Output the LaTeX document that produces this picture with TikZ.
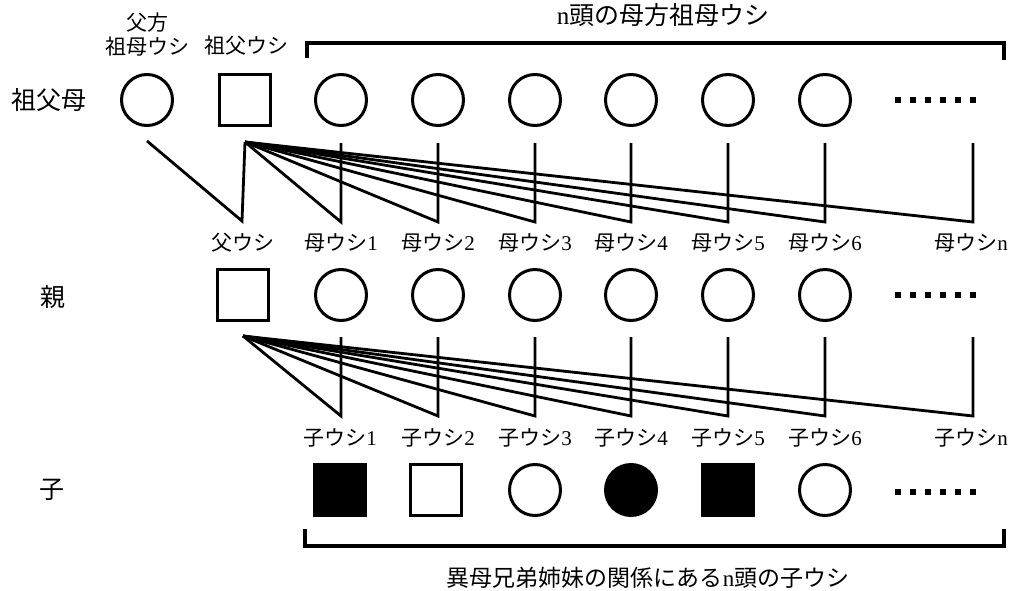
\documentclass[tikz,border=0pt]{standalone}
\usepackage{fontspec}
\setmainfont{Liberation Serif}
\newfontfamily\cjk{Noto Sans CJK JP}
\begin{document}
\begin{tikzpicture}[x=1pt,y=-1pt,
  fem/.style={circle,draw,minimum size=51pt,inner sep=0pt,line width=3pt},
  mal/.style={rectangle,draw,minimum size=51pt,inner sep=0pt,line width=3pt},
  femfill/.style={fem,fill=black},
  malfill/.style={mal,fill=black},
  lbl/.style={inner sep=0pt,font=\fontsize{21}{24}\selectfont\cjk},
  rowlbl/.style={inner sep=0pt,font=\fontsize{25}{27}\selectfont\cjk},
  toplbl/.style={inner sep=0pt,font=\fontsize{25}{27}\selectfont\cjk},
  botlbl/.style={inner sep=0pt,font=\fontsize{23}{25}\selectfont\cjk},
  link/.style={line width=2.8pt,line join=miter},
  brk/.style={line width=3.4pt,line join=miter},
  dot/.style={fill=black,minimum size=5.5pt,inner sep=0pt,rectangle}]
\useasboundingbox (0,0) rectangle (1022,591);

% ---- row labels
\node[rowlbl] (r1) at (49,100) {祖父母};
\node[rowlbl] (r2) at (53,297) {親};
\node[rowlbl] (r3) at (52,490) {子};

% ---- grandparents
\node[fem] (gmp) at (147,100) {};
\node[mal] (gf) at (245,100) {};
\foreach \i/\x in {1/341,2/438,3/535,4/631,5/728,6/825}
  \node[fem] (mg\i) at (\x,100) {};
\foreach \k in {0,...,5}
  \node[dot] (gd\k) at (898+\k*15,100) {};

\node[lbl,align=center] (lgmp) at (147,35) {父方\\祖母ウシ};
\node[lbl] (lgf) at (246,46) {祖父ウシ};
\node[toplbl] (ltop) at (663,15) {{\rmfamily n}頭の母方祖母ウシ};
\coordinate (tb1) at (307,58);
\coordinate (tb2) at (307,43);
\coordinate (tb3) at (1004,43);
\coordinate (tb4) at (1004,60);
\draw[brk] (tb1) -- (tb2) -- (tb3) -- (tb4);

% ---- grandparent -> parent connectors
\coordinate (gmpj) at (147,141);
\coordinate (gfj) at (245,142);
\coordinate (faj) at (242,221);
\draw[link] (gmpj) -- (faj) -- (gfj);
\foreach \i/\x in {1/341,2/438,3/535,4/631,5/728,6/825,n/973}{
  \coordinate (mgv\i) at (\x,143);
  \coordinate (mj\i) at (\x,222);
  \draw[link] (gfj) -- (mj\i) -- (mgv\i);
}

% ---- parents
\node[lbl] (lfa) at (243,243) {父ウシ};
\node[mal] (fa) at (243,295) {};
\foreach \i/\x in {1/341,2/438,3/535,4/631,5/728,6/825}{
  \node[fem] (m\i) at (\x,295) {};
  \node[lbl] (lm\i) at (\x,243) {母ウシ{\rmfamily\i}};
}
\node[lbl] (lmn) at (971,243) {母ウシ{\rmfamily n}};
\foreach \k in {0,...,5}
  \node[dot] (pd\k) at (898+\k*15,295) {};

% ---- parent -> child connectors
\coordinate (faj2) at (243,336);
\foreach \i/\x in {1/341,2/438,3/535,4/631,5/728,6/825,n/973}{
  \coordinate (mv\i) at (\x,337);
  \coordinate (cj\i) at (\x,416);
  \draw[link] (faj2) -- (cj\i) -- (mv\i);
}

% ---- children
\foreach \i/\x in {1/340,2/438,3/535,4/631,5/728,6/825}
  \node[lbl] (lc\i) at (\x,438) {子ウシ{\rmfamily\i}};
\node[lbl] (lcn) at (971,438) {子ウシ{\rmfamily n}};
\node[malfill] (c1) at (340,490) {};
\node[mal] (c2) at (436,490) {};
\node[fem] (c3) at (535,490) {};
\node[femfill] (c4) at (631,490) {};
\node[malfill] (c5) at (728,490) {};
\node[fem] (c6) at (825,490) {};
\foreach \k in {0,...,5}
  \node[dot] (cd\k) at (898+\k*15,492) {};

\coordinate (bb1) at (305,529);
\coordinate (bb2) at (305,546);
\coordinate (bb3) at (1004,546);
\coordinate (bb4) at (1004,529);
\draw[brk] (bb1) -- (bb2) -- (bb3) -- (bb4);
\node[botlbl] (lbot) at (648,578) {異母兄弟姉妹の関係にある{\rmfamily n}頭の子ウシ};
\end{tikzpicture}
\end{document}
